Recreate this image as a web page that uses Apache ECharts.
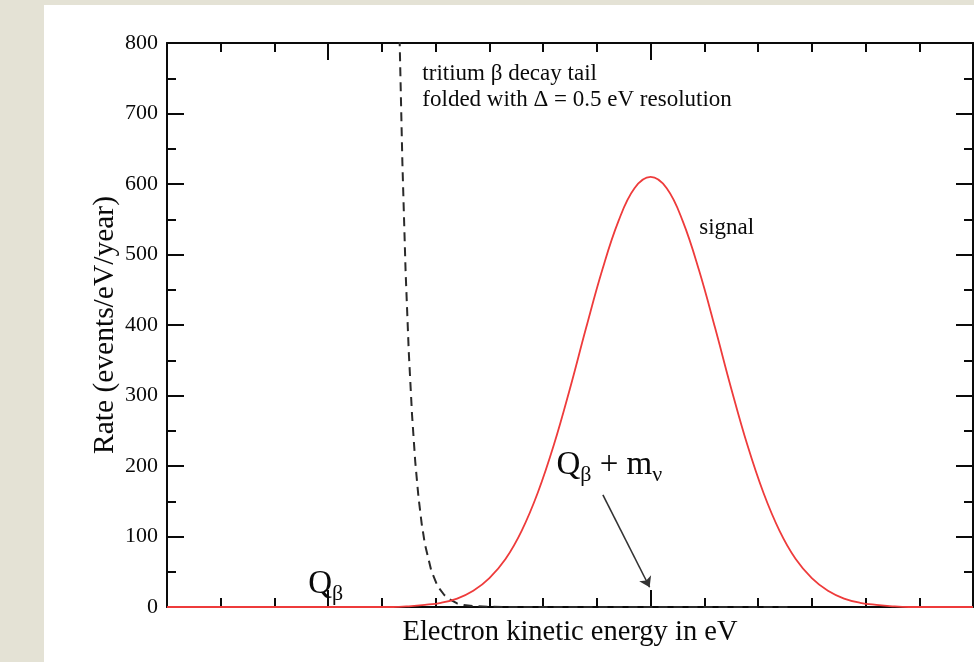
<!DOCTYPE html>
<html>
<head>
<meta charset="utf-8">
<title>Electron kinetic energy near the endpoint</title>
<script src="https://cdn.jsdelivr.net/npm/echarts@6/dist/echarts.min.js"></script>
<style>
  html, body { margin: 0; padding: 0; }
  body { width: 974px; height: 662px; background: #e4e2d5; position: relative; overflow: hidden; }
  #chart { position: absolute; left: 44px; top: 5px; width: 930px; height: 657px; background: #fff; }
</style>
</head>
<body>
<div id="chart"></div>
<script>
// energy relative to Q_beta (eV)
const signalX = [-0.5, 0, 0.2, 0.25, 0.3, 0.35, 0.4, 0.45, 0.5, 0.55, 0.6, 0.65, 0.7, 0.75, 0.8, 0.85, 0.9, 0.95,
  1.0, 1.05, 1.1, 1.15, 1.2, 1.25, 1.3, 1.35, 1.4, 1.45, 1.5, 1.55, 1.6, 1.65, 1.7, 1.75, 1.8, 2.0];
const signalY = [0, 0, 0, 1, 3, 6, 12, 23, 41, 68, 108, 162, 230, 310, 396, 478, 547, 594,
  610, 594, 547, 478, 396, 310, 230, 162, 108, 68, 41, 23, 12, 6, 3, 1, 0, 0];

const tailX = [0.21, 0.22, 0.23, 0.24, 0.25, 0.26, 0.27, 0.28, 0.29, 0.30, 0.32, 0.34, 0.36, 0.38, 0.40, 0.42, 0.45, 0.50, 0.55, 1.44];
const tailY = [1106, 835, 632, 477, 361, 273, 206, 156, 118, 89, 51, 29, 17, 10, 5, 3, 1.3, 0.3, 0, 0];

const majorTicksX = [0, 1];

const serif = 'Liberation Serif';
const ink = '#0a0a0a';

const chart = echarts.init(document.getElementById('chart'));

function xAxisDef(pos, long) {
  return {
    type: 'value', position: pos, min: -0.5, max: 2, interval: 1 / 6,
    axisLine: { show: !long, onZero: false, lineStyle: { color: ink, width: 2 } },
    axisTick: long
      ? { show: true, inside: true, length: 17, customValues: majorTicksX, lineStyle: { color: ink, width: 2 } }
      : { show: true, inside: true, length: 9, lineStyle: { color: ink, width: 2 } },
    axisLabel: { show: false },
    splitLine: { show: false }
  };
}

function yAxisDef(pos) {
  return {
    type: 'value', position: pos, min: 0, max: 800, interval: 100,
    axisLine: { show: true, onZero: false, lineStyle: { color: ink, width: 2 } },
    axisTick: { show: true, inside: true, length: 17, lineStyle: { color: ink, width: 2 } },
    minorTick: { show: true, splitNumber: 2, length: 9, lineStyle: { color: ink, width: 2 } },
    axisLabel: { show: pos === 'left', fontFamily: serif, fontSize: 22, color: ink, margin: 9 },
    splitLine: { show: false }
  };
}

const bottomAxis = xAxisDef('bottom', false);
bottomAxis.name = 'Electron kinetic energy in eV';
bottomAxis.nameLocation = 'middle';
bottomAxis.nameGap = 11;
bottomAxis.nameMoveOverlap = false;
bottomAxis.nameTextStyle = { fontFamily: serif, fontSize: 28.5, color: ink, verticalAlign: 'top' };

const leftAxis = yAxisDef('left');
leftAxis.name = 'Rate (events/eV/year)';
leftAxis.nameLocation = 'middle';
leftAxis.nameGap = 62;
leftAxis.nameMoveOverlap = false;
leftAxis.nameTextStyle = { fontFamily: serif, fontSize: 29.5, color: ink, verticalAlign: 'middle' };

const bigRich = {
  q: { fontFamily: serif, fontSize: 33, color: ink, lineHeight: 34, verticalAlign: 'top' },
  s: { fontFamily: serif, fontSize: 22, color: ink, lineHeight: 22, padding: [19, 0, 0, 0] }
};

chart.setOption({
  animation: false,
  grid: { left: 123, top: 38, width: 806, bottom: 55 },
  xAxis: [bottomAxis, xAxisDef('bottom', true), xAxisDef('top', false), xAxisDef('top', true)],
  yAxis: [leftAxis, yAxisDef('right')],
  series: [
    {
      name: 'tail',
      type: 'line',
      data: tailX.map((x, i) => [x, tailY[i]]),
      showSymbol: false,
      clip: true,
      lineStyle: { color: '#2a2a2a', width: 2, type: [9, 6] },
      z: 3
    },
    {
      name: 'signal',
      type: 'line',
      data: signalX.map((x, i) => [x, signalY[i]]),
      showSymbol: false,
      smooth: 0.4,
      clip: true,
      lineStyle: { color: '#ee3b3b', width: 1.8 },
      z: 4,
      markLine: {
        silent: true,
        symbol: ['none', 'arrow'],
        symbolSize: 10,
        label: { show: false },
        lineStyle: { color: '#333', width: 1.6, type: 'solid' },
        data: [[{ coord: [0.852, 159] }, { coord: [0.997, 28] }]]
      },
      markPoint: {
        silent: true,
        symbol: 'circle',
        symbolSize: 0,
        label: { show: true, position: 'right', distance: 0, color: ink, fontFamily: serif, fontSize: 23 },
        data: [
          {
            coord: [0.292, 737],
            label: { formatter: 'tritium β decay tail\nfolded with Δ = 0.5 eV resolution', lineHeight: 26 }
          },
          { coord: [1.151, 537], label: { formatter: 'signal' } },
          { coord: [-0.062, 31], label: { formatter: '{q|Q}{s|β}', rich: bigRich } },
          { coord: [0.708, 200], label: { formatter: '{q|Q}{s|β}{q| + m}{s|ν}', rich: bigRich } }
        ]
      }
    }
  ]
});
</script>
</body>
</html>
